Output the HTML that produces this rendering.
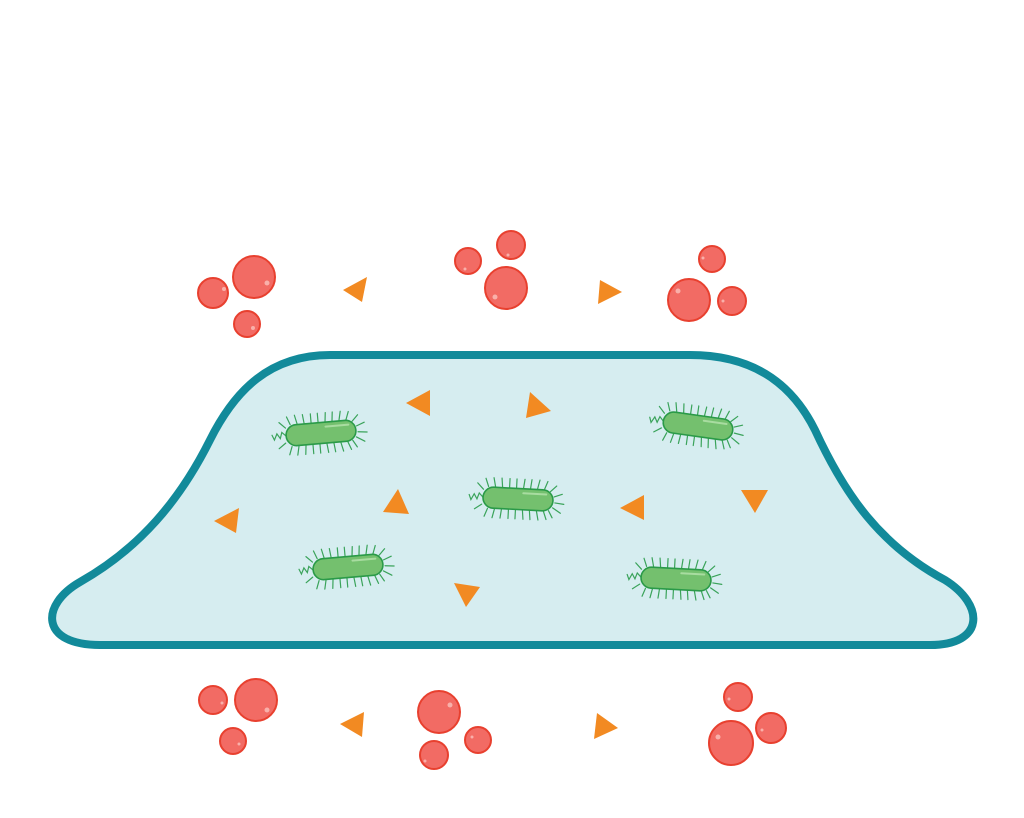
<!DOCTYPE html>
<html><head><style>html,body{margin:0;padding:0;background:#fff;}svg{display:block}</style></head>
<body>
<svg width="1024" height="818" viewBox="0 0 1024 818" xmlns="http://www.w3.org/2000/svg">
<defs>
<g id="bac">
  <g stroke="#3aa35a" stroke-width="1.2" fill="none" stroke-linecap="round">
    <path d="M-30,-11 l-3,-8 M-23,-11 l-2,-9 M-16,-11 l-1,-9 M-9,-11 l0,-9 M-2,-11 l0,-9 M5,-11 l1,-9 M12,-11 l1,-9 M19,-11 l2,-9 M26,-11 l3,-8 M32,-9 l6,-6 M36,-4 l8,-3 M37,2 l9,1 M35,7 l8,5 M31,10 l4,7"/>
    <path d="M-30,11 l-3,8 M-23,11 l-2,9 M-16,11 l-1,9 M-9,11 l0,9 M-2,11 l0,9 M5,11 l1,9 M12,11 l1,9 M19,11 l2,9 M26,11 l3,8 M-35,-8 l-6,-6 M-36,7 l-7,5"/>
    <path d="M-35,0 l-4,-4 l-2,6 l-3,-5 l-3,6 l-2,-5"/>
  </g>
  <rect x="-35" y="-10.5" width="70" height="21" rx="10.5" fill="#74c06e" stroke="#2a9a48" stroke-width="1.6"/>
  <path d="M5,-6 L28,-6" stroke="#a8dca0" stroke-width="2" stroke-linecap="round"/>
</g>
<g id="c"><circle r="1" fill="#f26b64" stroke="#e8402f" stroke-width="0.09"/></g>
</defs>
<path d="M330,355 L690,355 C760,355 795,390 815,430 C845,495 880,545 945,580 C985,605 985,645 930,645 L100,645 C40,645 40,605 80,582 C140,548 180,500 210,440 C235,390 270,355 330,355 Z" fill="#d6edf0" stroke="#128a9a" stroke-width="8"/>
<g fill="#f26b64" stroke="#e8402f" stroke-width="2">
<circle cx="213" cy="293" r="15"/><circle cx="254" cy="277" r="21"/><circle cx="247" cy="324" r="13"/>
<circle cx="468" cy="261" r="13"/><circle cx="511" cy="245" r="14"/><circle cx="506" cy="288" r="21"/>
<circle cx="712" cy="259" r="13"/><circle cx="689" cy="300" r="21"/><circle cx="732" cy="301" r="14"/>
<circle cx="213" cy="700" r="14"/><circle cx="256" cy="700" r="21"/><circle cx="233" cy="741" r="13"/>
<circle cx="439" cy="712" r="21"/><circle cx="478" cy="740" r="13"/><circle cx="434" cy="755" r="14"/>
<circle cx="738" cy="697" r="14"/><circle cx="771" cy="728" r="15"/><circle cx="731" cy="743" r="22"/>
</g>
<g fill="#f9b0aa">
<circle cx="224" cy="289" r="2"/><circle cx="267" cy="283" r="2.5"/><circle cx="253" cy="328" r="2"/>
<circle cx="465" cy="269" r="1.5"/><circle cx="508" cy="255" r="1.5"/><circle cx="495" cy="297" r="2.5"/>
<circle cx="703" cy="258" r="1.5"/><circle cx="678" cy="291" r="2.5"/><circle cx="723" cy="301" r="1.5"/>
<circle cx="222" cy="703" r="1.5"/><circle cx="267" cy="710" r="2.5"/><circle cx="239" cy="744" r="1.5"/>
<circle cx="450" cy="705" r="2.5"/><circle cx="472" cy="737" r="1.5"/><circle cx="425" cy="761" r="1.5"/>
<circle cx="729" cy="699" r="1.5"/><circle cx="762" cy="730" r="1.5"/><circle cx="718" cy="737" r="2.5"/>
</g>
<g fill="#f28a22">
<polygon points="343,290 367,277 362,302"/>
<polygon points="600,280 622,292 598,304"/>
<polygon points="406,403 430,390 430,416"/>
<polygon points="530,392 551,411 526,418"/>
<polygon points="383,512 398,489 409,514"/>
<polygon points="620,508 644,495 644,520"/>
<polygon points="741,490 768,490 755,513"/>
<polygon points="214,521 239,508 236,533"/>
<polygon points="454,583 480,587 466,607"/>
<polygon points="340,724 364,712 362,737"/>
<polygon points="597,713 618,728 594,739"/>
</g>
<use href="#bac" transform="translate(321,433) rotate(-5)"/>
<use href="#bac" transform="translate(698,426) rotate(8)"/>
<use href="#bac" transform="translate(518,499) rotate(3)"/>
<use href="#bac" transform="translate(348,567) rotate(-5)"/>
<use href="#bac" transform="translate(676,579) rotate(3)"/>
</svg>
</body></html>
